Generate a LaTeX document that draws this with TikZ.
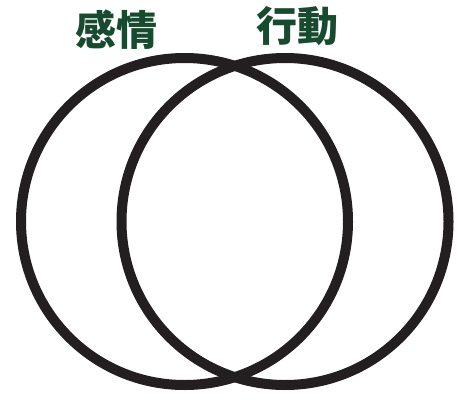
\documentclass[tikz,border=0pt]{standalone}
\usepackage{fontspec}
\newfontfamily\cjk{Noto Sans CJK JP}
\usetikzlibrary{positioning}
\definecolor{ringgray}{HTML}{231F20}
\definecolor{labelgreen}{HTML}{174A2E}
\begin{document}
\begin{tikzpicture}[x=1pt,y=-1pt,
  ring/.style={draw=ringgray,line width=10pt},
  title/.style={text=labelgreen,font=\cjk\bfseries\fontsize{41}{41}\selectfont,inner sep=0pt}]
  % --- Frame ---
  \useasboundingbox (0,0) rectangle (462,401);

  % --- Parameters ---
  \def\ry{221.5}   % common centre height
  \def\rr{163.5}   % ring radius (middle of stroke)

  % --- Rings ---
  \node[ring,circle,minimum size=2*\rr pt,inner sep=0pt] (feel) at (184.5,\ry) {};
  \node[ring,circle,minimum size=2*\rr pt,inner sep=0pt] (act)  at (285,\ry) {};

  % --- Labels ---
  \node[title] (feeltitle) at (116,30) {感情};
  \node[title] (acttitle)  at (297,26) {行動};
\end{tikzpicture}
\end{document}
